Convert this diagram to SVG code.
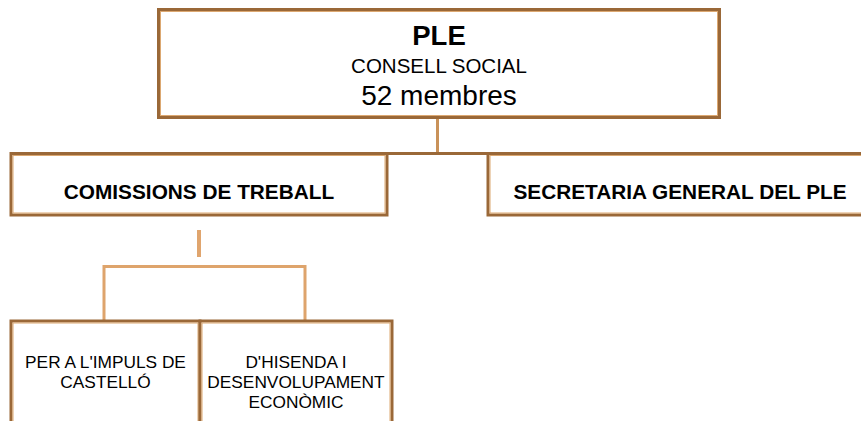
<svg xmlns="http://www.w3.org/2000/svg" width="861" height="421" viewBox="0 0 861 421">
<style>
.box{fill:#ffffff;stroke:#9a6838;stroke-width:3}
.inner{fill:none;stroke:#dca871;stroke-width:1}
.con{fill:none;stroke:#c99259;stroke-width:3}
.br{fill:none;stroke:#dea46c;stroke-width:3}
text{font-family:"Liberation Sans",Arial,sans-serif;fill:#000;text-anchor:middle}
.b{font-weight:bold}
</style>
<rect width="861" height="421" fill="#ffffff"/>
<g id="connectors">
<line class="con" x1="437.5" y1="117" x2="437.5" y2="153"/>
<line class="box" x1="387" y1="153.5" x2="488" y2="153.5"/>
<line x1="199" y1="230" x2="199" y2="257" stroke="#e0a56e" stroke-width="4"/>
<path class="br" d="M104 321 V266.5 H305 V321"/>
</g>
<g id="ple">
<rect class="box" x="158.5" y="9.5" width="561" height="108"/>
<rect class="inner" x="160.5" y="11.5" width="557" height="104"/>
<text class="b" x="439" y="45" font-size="27.5">PLE</text>
<text x="439" y="73" font-size="20.5">CONSELL SOCIAL</text>
<text x="439" y="105" font-size="28">52 membres</text>
</g>
<g id="comissions">
<rect class="box" x="11" y="153.5" width="376" height="61.5"/>
<rect class="inner" x="13" y="155.5" width="372" height="57.5"/>
<text class="b" x="199" y="199" font-size="20.8">COMISSIONS DE TREBALL</text>
</g>
<g id="secretaria">
<rect class="box" x="488" y="153.5" width="390" height="61.5"/>
<rect class="inner" x="490" y="155.5" width="386" height="57.5"/>
<text class="b" x="680" y="199" font-size="20.8">SECRETARIA GENERAL DEL PLE</text>
</g>
<g id="impuls">
<rect class="box" x="11" y="321" width="189" height="110"/>
<rect class="inner" x="13" y="323" width="185" height="106"/>
<text x="105.5" y="368" font-size="17.3">PER A L'IMPULS DE</text>
<text x="105.5" y="388" font-size="17.3">CASTELLÓ</text>
</g>
<g id="hisenda">
<rect class="box" x="200" y="321" width="192" height="110"/>
<rect class="inner" x="202" y="323" width="188" height="106"/>
<text x="296" y="368" font-size="17.3">D'HISENDA I</text>
<text x="296" y="388" font-size="17.3">DESENVOLUPAMENT</text>
<text x="296" y="408" font-size="17.3">ECONÒMIC</text>
</g>
</svg>
